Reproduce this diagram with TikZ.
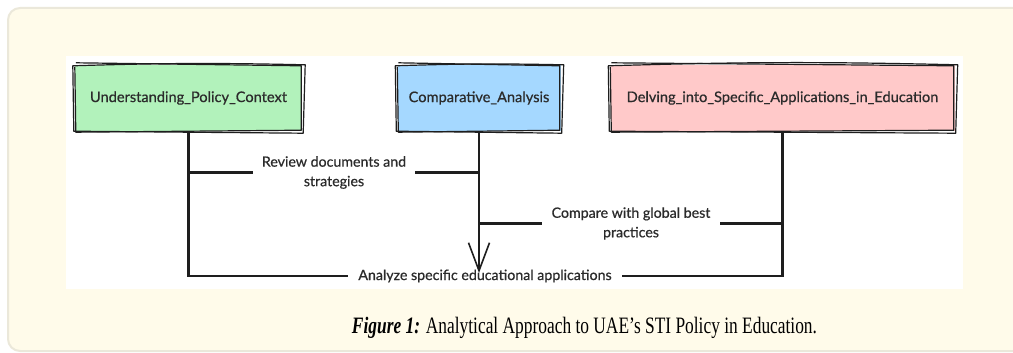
\documentclass[tikz,border=0pt]{standalone}
\usepackage{fontspec}
\setmainfont{Liberation Serif}
\newfontfamily\diagfont[FakeBold=0.6]{Lato}
\usetikzlibrary{calc,arrows.meta}

\definecolor{panelbg}{HTML}{FFFBEA}
\definecolor{panelrule}{HTML}{EBE8DA}
\definecolor{greenfill}{HTML}{B2F2BB}
\definecolor{bluefill}{HTML}{A5D8FF}
\definecolor{pinkfill}{HTML}{FFC9C9}
\definecolor{ink}{HTML}{1E1E1E}
\definecolor{txt}{HTML}{2B2B2B}

\tikzset{
  topic/.style={minimum height=66pt, inner sep=0pt, text=txt,
    font=\diagfont\fontsize{14.6}{16}\selectfont},
  sketch/.style={draw=ink, line width=1.2pt, line join=round},
  flow/.style={draw=ink, line width=2.2pt},
  edgelabel/.style={align=center, inner xsep=1pt, inner ysep=0pt, text=txt,
    font=\diagfont\fontsize{14.2}{19.5}\selectfont},
}

% hand-drawn double outline around a node
\newcommand{\sketchframe}[1]{%
  \draw[sketch] ($(#1.north west)+(-2,1)$) to[bend left=1.5] ($(#1.north east)+(3,0)$)
    -- ($(#1.south east)+(1,2)$) -- ($(#1.south west)+(-1,0)$) -- cycle;
  \draw[sketch] ($(#1.north west)+(1,-2)$) -- ($(#1.north east)+(-1,1)$)
    -- ($(#1.south east)+(-1,-1)$) -- ($(#1.south west)+(1,1)$) -- ($(#1.north west)+(0,2)$);
}

\begin{document}
\begin{tikzpicture}[x=1pt, y=-1pt]
  \useasboundingbox (0,0) rectangle (1013,353);

  % page panel and white figure area
  \fill[panelbg, draw=panelrule, line width=2pt, rounded corners=12pt]
    (8,8) rectangle (1040,351);
  \fill[white] (66,56) rectangle (963,289);

  % topic boxes
  \node[topic, fill=greenfill, minimum width=227pt] (policy) at (188.5,98) {Understanding\_Policy\_Context};
  \node[topic, fill=bluefill, minimum width=163pt] (compare) at (479,98) {Comparative\_Analysis};
  \node[topic, fill=pinkfill, minimum width=344pt] (apply) at (782.5,98) {Delving\_into\_Specific\_Applications\_in\_Education};
  \sketchframe{policy}
  \sketchframe{compare}
  \sketchframe{apply}

  % edge labels
  \node[edgelabel, minimum width=162pt] (review) at (334,172.5) {Review documents and\\strategies};
  \node[edgelabel, minimum width=178pt] (global) at (631,223.5) {Compare with global best\\practices};
  \node[edgelabel, minimum width=274pt] (analyze) at (485,276) {Analyze specific educational applications};

  \coordinate (tip) at ($(compare.south |- analyze)+(0,-3)$);

  % connectors
  \draw[flow] (policy.south) -- (policy.south |- analyze) -- (analyze.west);
  \draw[flow] (apply.south) -- (apply.south |- analyze) -- (analyze.east);
  \draw[flow] (policy.south |- review) -- (review.west);
  \draw[flow] (review.east) -- (compare.south |- review);
  \draw[flow] (compare.south |- global) -- (global.west);
  \draw[flow] (global.east) -- (apply.south |- global);
  \draw[flow, -{Straight Barb[length=28pt, width=21pt, line width=1.6pt]}] (compare.south) -- (tip);

  % caption
  \node[anchor=base, inner sep=0pt] (caption) at (584.5,333) {\fontsize{23.5}{26}\selectfont\resizebox{465pt}{\height}{\textbf{\textit{Figure 1:}} Analytical Approach to UAE’s STI Policy in Education.}};
\end{tikzpicture}
\end{document}
